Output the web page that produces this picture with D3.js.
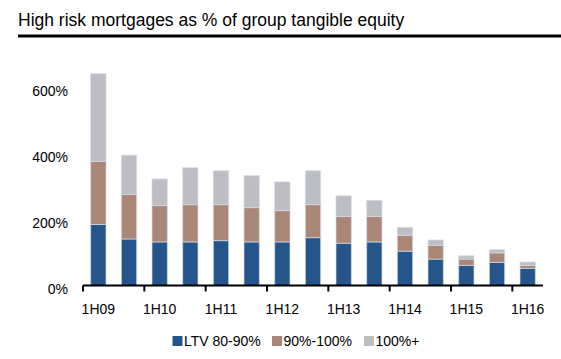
<!DOCTYPE html>
<html>
<head>
<meta charset="utf-8">
<script src="https://cdn.jsdelivr.net/npm/d3@7"></script>
<style>
  body { margin: 0; background: #fff; }
  svg { display: block; font-family: "Liberation Sans", Arial, sans-serif; }
</style>
</head>
<body>
<svg id="chart" width="561" height="359"></svg>
<script>
const categories = ["1H09","2H09","1H10","2H10","1H11","2H11","1H12","2H12","1H13","2H13","1H14","2H14","1H15","2H15","1H16"];
const ltv80_90   = [185, 141, 132, 132, 136, 132, 132, 145, 128, 132, 104, 80, 61, 70, 52];
const ltv90_100  = [191, 135, 110, 113, 109, 104,  95, 100,  81,  77,  48, 42, 19, 29,  9];
const ltv100plus = [266, 119,  81, 112, 103,  97,  87, 103,  63,  49,  24, 16, 10, 10, 10];
const yTicks = [0, 200, 400, 600];
const seriesNames = ["LTV 80-90%", "90%-100%", "100%+"];
const colors = ["#24568c", "#a98676", "#bdbec3"];

const svg = d3.select("#chart");

// Title
svg.append("text").attr("x", 18).attr("y", 26)
  .attr("font-size", 17.5).attr("fill", "#000")
  .text("High risk mortgages as % of group tangible equity");
svg.append("rect").attr("x", 18).attr("y", 34.5).attr("width", 543).attr("height", 3).attr("fill", "#000");

const x = d3.scaleBand().domain(categories).range([83, 543]).paddingInner(0.5).paddingOuter(0.25);
const xb = d3.scaleBand().domain(categories).range([83, 543]);
const y = d3.scaleLinear().domain([0, 700]).range([285.5, 285.5 - 231]);

const data = categories.map((c, i) => ({cat: c, a: ltv80_90[i], b: ltv90_100[i], c: ltv100plus[i]}));
const stack = d3.stack().keys(["a", "b", "c"])(data);

svg.append("g").selectAll("g").data(stack).join("g")
  .attr("fill", (d, i) => colors[i])
  .selectAll("rect").data(d => d).join("rect")
  .attr("x", d => x(d.data.cat))
  .attr("width", x.bandwidth())
  .attr("y", d => y(d[1]))
  .attr("height", d => y(d[0]) - y(d[1]))
  .attr("stroke", "rgba(215,220,230,0.7)")
  .attr("stroke-width", 1);

// Y axis labels
const yAxis = d3.axisLeft(y).tickValues(yTicks).tickSize(0).tickPadding(0).tickFormat(d => d + "%");
const gy = svg.append("g").attr("transform", "translate(68,3.5)").call(yAxis);
gy.select(".domain").remove();
gy.selectAll("text").attr("font-size", 14).attr("fill", "#000").attr("font-family", "Liberation Sans, Arial, sans-serif");

// X axis
const gx = svg.append("g");
gx.append("line").attr("x1", xb.range()[0]).attr("x2", xb.range()[1])
  .attr("y1", y(0)).attr("y2", y(0)).attr("stroke", "#000").attr("stroke-width", 2);
const labeled = categories.filter((c, i) => i % 2 === 0);
gx.selectAll(".tick").data(labeled).join("line")
  .attr("x1", d => xb(d)).attr("x2", d => xb(d))
  .attr("y1", y(0)).attr("y2", y(0) + 6)
  .attr("stroke", "#000").attr("stroke-width", 2);
gx.selectAll(".lbl").data(labeled).join("text")
  .attr("x", d => xb(d) + xb.bandwidth() / 2)
  .attr("y", 313.5)
  .attr("text-anchor", "middle").attr("font-size", 14).attr("fill", "#000")
  .text(d => d);

// Legend
const legendX = [172.5, 272, 364];
const lg = svg.append("g");
seriesNames.forEach((n, i) => {
  lg.append("rect").attr("x", legendX[i]).attr("y", 336).attr("width", 10).attr("height", 10).attr("fill", colors[i]);
  lg.append("text").attr("x", legendX[i] + 11.5).attr("y", 346).attr("font-size", 14).attr("fill", "#000").text(n);
});
</script>
</body>
</html>
